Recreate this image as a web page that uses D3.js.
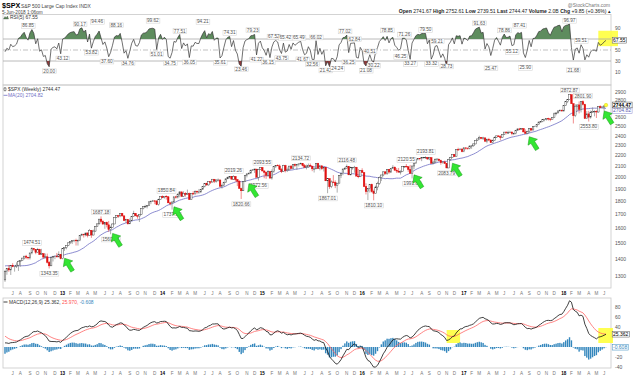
<!DOCTYPE html>
<html>
<head>
<meta charset="utf-8">
<script src="https://cdn.jsdelivr.net/npm/d3@7/dist/d3.min.js"></script>
<style>
html,body{margin:0;padding:0;background:#fff;}
svg{display:block;font-family:"Liberation Sans",Arial,sans-serif;}
</style>
</head>
<body>
<svg id="chart" width="640" height="379"></svg>
<script>
// ---------------- DATA ----------------
const firstWeek = "2011-01-07";      // Friday of first weekly close (warm-up for indicators)
const displayStart = "2012-06-08";   // first week drawn
// weekly closes, 2011-01-07 .. 2018-06-08
const closes = [
1272,1293,1283,1276,1311,1329,1343,1320,1321,1304,1279,1313,1332,1329,1320,1337,1364,1340,1338,1333,1331,1300,1271,1271,1268,1340,1344,1316,1345,1292,1199,1179,1124,1177,1174,1154,1216,1136,1131,1155,1224,1238,1285,1253,1263,1216,1159,1244,1255,1219,1265,1258,
1278,1289,1315,1316,1345,1343,1361,1366,1370,1371,1404,1397,1408,1398,1370,1378,1403,1369,1353,1295,1318,1278,1325,1343,1335,1362,1354,1357,1363,1386,1391,1406,1418,1411,1407,1438,1466,1460,1441,1461,1429,1433,1412,1414,1380,1359,1409,1416,1418,1413,1430,1402,
1466,1472,1486,1503,1513,1518,1520,1516,1518,1551,1561,1556,1569,1553,1588,1555,1582,1614,1633,1667,1650,1631,1643,1626,1593,1606,1632,1680,1692,1691,1710,1691,1656,1664,1633,1655,1688,1710,1692,1690,1703,1745,1760,1762,1771,1798,1804,1806,1805,1775,1818,1842,
1831,1842,1838,1790,1783,1797,1838,1836,1859,1878,1841,1866,1857,1865,1816,1864,1863,1881,1878,1878,1900,1924,1950,1936,1963,1961,1985,1968,1978,1978,1925,1931,1955,1988,2003,2008,1985,2010,1982,1968,1906,1887,1965,2018,2032,2039,2064,2068,2075,2002,2071,2089,
2058,2045,2019,2051,1995,2055,2097,2110,2104,2071,2053,2108,2061,2067,2102,2081,2117,2108,2116,2123,2126,2107,2092,2095,2110,2102,2077,2077,2127,2080,2104,2078,2092,1971,1989,1921,1961,1958,1932,1951,2015,2033,2075,2079,2099,2023,2089,2090,2092,2012,2006,2061,
2044,1922,1880,1907,1940,1880,1865,1918,1948,2000,2022,2050,2035,2073,2048,2081,2092,2065,2057,2047,2052,2099,2099,2096,2071,2037,2103,2130,2162,2175,2174,2183,2184,2184,2169,2180,2128,2139,2165,2168,2153,2133,2141,2126,2085,2164,2182,2213,2192,2260,2258,2264,2239,
2277,2275,2271,2295,2297,2316,2351,2367,2383,2373,2378,2344,2363,2355,2329,2349,2384,2399,2391,2382,2416,2439,2432,2433,2438,2423,2425,2459,2473,2472,2477,2441,2426,2443,2477,2461,2500,2502,2519,2549,2553,2575,2581,2588,2582,2579,2602,2642,2652,2675,2683,2674,
2743,2786,2810,2873,2762,2620,2732,2747,2691,2786,2752,2588,2641,2604,2656,2670,2670,2663,2728,2713,2721,2735,2744.47
];
// weekly highs / lows for the drawn weeks (2012-06-08 .. 2018-06-08)
const highs = [
1335,1345,1364,1363,1375,1357,1380,1392,1395,1407,1419,1426,1413,1438,1474.51,1467,1460,1470,1464,1464,1436,1434,1434,1388,1409,1420,1420,1438,1448,1430,
1467,1472,1486,1503,1514,1518,1524,1530,1525,1552,1564,1563,1570,1573,1597,1589,1592,1618,1635,1667,1687.18,1659,1646,1649,1654,1620,1635,1680,1693,1698,1710,1710,1692,1669,1666,1672,1690,1729,1711,1698,1704,1745,1760,1775,1771,1799,1804,1813,1810,1809,1823,1844,
1849,1843,1850.84,1844,1798,1798,1838,1846,1867,1883,1879,1883,1875,1897,1872,1865,1884,1891,1889,1902,1901,1924,1950,1955,1963,1968,1986,1985,1983,1991,1984,1946,1964,1992,2005,2011,2009,2019.26,2009,1985,1977,1912,1965,2018,2034,2041,2071,2075,2079,2075,2077,2092,
2093.55,2064,2054,2065,2058,2072,2097,2110,2119,2117,2083,2114,2114,2089,2103,2111,2120,2126,2117,2123,2134.72,2126,2121,2115,2126,2126,2098,2088,2129,2132,2114,2112,2095,2094,1989,1993,1975,2021,1975,1951,2021,2033,2080,2094,2116.48,2099,2097,2094,2104,2094,2076,2064,
2082,2044,1950,1908,1940,1947,1896,1930,1963,2009,2022,2053,2056,2075,2075,2084,2111,2099,2084,2085,2064,2099,2103,2120.55,2096,2113,2104,2131,2169,2176,2177,2183,2188,2193.81,2187,2184,2187,2153,2176,2175,2169,2162,2147,2152,2131,2170,2189,2214,2214,2260,2278,2272,2274,
2282,2279,2276,2300,2300,2319,2352,2368,2401,2386,2390,2382,2371,2378,2366,2361,2392,2400,2403,2406,2418,2440,2446,2454,2453,2450,2434,2463,2479,2484,2480,2480,2468,2454,2480,2480,2500,2509,2520,2552,2557,2576,2582,2588,2597,2593,2605,2657,2657,2680,2695,2692,
2743,2787,2810,2873,2873,2763,2755,2747,2789,2787,2801.90,2761,2674,2676,2680,2717,2683,2683,2732,2742,2735,2736,2752.61
];
const lows = [
1267,1307,1324,1306,1351,1325,1346,1329,1354,1391,1397,1399,1397,1397,1429,1451,1430,1439,1425,1425,1403,1405,1373,1343.35,1358,1385,1399,1411,1413,1398,
1398,1451,1461,1484,1495,1495,1507,1485,1485,1514,1547,1538,1546,1539,1552,1536,1553,1577,1613,1627,1636,1630,1598,1608,1577,1560.33,1604,1631,1674,1676,1681,1684,1655,1640,1628,1633,1655,1686,1688,1670,1646,1700,1740,1752,1747,1768,1780,1799,1780,1772,1768,1818,
1827,1823,1815,1790,1770,1737.92,1792,1823,1825,1834,1839,1839,1840,1856,1813,1814,1858,1850,1859,1862,1868,1896,1915,1929,1930,1944,1956,1952,1955,1965,1916,1905,1928,1953,1988,1990,1984,1978,1965,1926,1906,1820.66,1886,1960,2001,2025,2034,2062,2040,2002,1972.56,2069,
2054,1993,1988,2005,1989,1981,2041,2085,2103,2067,2039,2049,2045,2048,2066,2073,2078,2094,2067,2099,2120,2099,2085,2072,2085,2101,2056,2044,2079,2078,2063,2066,2053,1971,1867.01,1903,1909,1953,1909,1872,1951,1995,2020,2066,2080,2022,2019,2070,2042,2012,1993,2005,
2043,1918,1857,1812,1872,1872,1810.10,1865,1891,1937,1969,2011,2023,2022,2033,2039,2077,2059,2039,2045,2026,2052,2085,2090,2050,2032,1991.68,2074,2125,2155,2156,2148,2173,2169,2160,2157,2128,2119,2131,2145,2147,2115,2124,2122,2083.79,2084,2151,2183,2187,2192,2248,2254,2233,
2234,2258,2258,2262,2267,2288,2312,2345,2361,2364,2356,2335,2322,2344,2328,2322,2361,2378,2387,2353,2382,2408,2415,2418,2431,2405,2407,2415,2453,2459,2464,2437,2421,2417,2429,2446,2474,2496,2488,2520,2543,2547,2557,2566,2566,2557,2578,2601,2624,2651,2675,2673,
2673,2737,2768,2808,2759,2532.69,2604,2675,2647,2658,2741,2585,2586,2553.80,2586,2660,2613,2594,2655,2707,2707,2676,2734
];
const monthLetters = ["J","F","M","A","M","J","J","A","S","O","N","D"];
const priceTicks = [1300,1400,1500,1600,1700,1800,1900,2000,2100,2200,2300,2400,2500,2600,2700,2800,2900];
const rsiTicks = [10,30,50,70,90];
const macdTicks = [-40,-20,0,20,40,60,80];

// price pivot annotations
const pivotText = ["1474.51","1343.35","1687.18","1560.33","1850.84","1737.92","2019.26","1820.66","2093.55","1972.56","2134.72","1867.01","2116.48","1810.10","2120.55","1991.68","2193.81","2083.79","2872.87","2801.90","2553.80"];
const pivotDate = ["2012-09-14","2012-11-16","2013-05-24","2013-06-28","2014-01-17","2014-02-07","2014-09-19","2014-10-17","2015-01-02","2014-12-19","2015-05-22","2015-08-28","2015-11-06","2016-02-12","2016-06-10","2016-07-01","2016-08-19","2016-11-04","2018-01-26","2018-03-16","2018-04-06"];
const pivotSide = ["a","b","a","b","a","b","a","b","a","b","a","b","a","b","a","b","a","b","a","a","b"];

// RSI pivot annotations
const rsiTagText = ["86.85","20.00","43.12","90.17","53.82","94.46","37.60","88.16","34.76","99.62","51.01","34.75","77.51","36.05","94.21","35.61","74.31","23.46","79.23","41.22","36.15","67.52","43.75","65.42","65.49","41.67","32.56","66.02","21.42","24.24","77.02","36.25","62.84","21.08","40.51","30.22","78.85","46.25","71.26","33.27","79.50","33.32","59.21","28.73","91.63","25.47","78.86","55.12","87.41","25.90","96.97","21.68","59.51"];
const rsiTagDate = ["2012-08-31","2012-11-16","2013-01-04","2013-03-08","2013-04-19","2013-05-10","2013-06-14","2013-07-19","2013-08-30","2013-11-29","2013-12-13","2014-01-31","2014-03-07","2014-04-11","2014-05-30","2014-08-01","2014-09-05","2014-10-17","2014-11-28","2014-12-12","2015-01-23","2015-02-13","2015-03-13","2015-03-27","2015-05-15","2015-05-29","2015-07-03","2015-07-17","2015-08-21","2015-10-02","2015-10-30","2015-11-13","2015-12-04","2016-01-15","2016-01-29","2016-02-12","2016-04-01","2016-05-20","2016-06-03","2016-06-24","2016-08-19","2016-09-09","2016-09-30","2016-11-04","2017-03-03","2017-04-13","2017-06-02","2017-06-30","2017-07-28","2017-08-18","2018-01-26","2018-02-09","2018-03-09"];
const rsiTagSide = ["a","b","b","a","b","a","b","a","b","a","b","b","a","b","a","b","a","b","a","b","b","a","b","a","a","b","b","a","b","b","a","b","a","b","a","b","a","b","a","b","a","b","a","b","a","b","a","b","a","b","a","b","a"];

// green arrows (weeks where price came back to the MA)
const arrowDate = ["2013-01-04","2013-06-28","2014-02-07","2014-11-07","2016-07-01","2016-11-18","2017-08-25","2018-05-25"];

// legend / header values
const titleSym = "$SPX", titleName = "S&P 500 Large Cap Index", titleExch = "INDX";
const stamp = "5-Jun-2018 1:06pm";
const quote = [["Open","2741.67"],["High","2752.61"],["Low","2739.51"],["Last","2744.47"],["Volume","2.0B"],["Chg","+9.85 (+0.36%)"]];
const lastText = "2744.47", maText = "2704.82";
const rsiText = "67.55";
const macdVals = ["25.362","25.970","-0.608"];

// ---------------- SETUP ----------------
const svg = d3.select("#chart");
const parse = d3.timeParse("%Y-%m-%d");
const d0 = parse(firstWeek);
const N = closes.length;
const dates = closes.map((_, i) => d3.timeDay.offset(d0, 7 * i));
const wk = s => Math.round((parse(s) - d0) / (7 * 864e5));
const S = wk(displayStart);
const opens = closes.map((c, i) => i > 0 ? closes[i - 1] : c);

// indicators computed from the closes
const ma = closes.map((c, i) => i < 19 ? null : d3.mean(closes.slice(i - 19, i + 1)));
const rsi = new Array(N).fill(null);
{
  let ag = 0, al = 0;
  for (let i = 1; i <= 5; i++) { const ch = closes[i] - closes[i - 1]; if (ch > 0) ag += ch; else al -= ch; }
  ag /= 5; al /= 5; rsi[5] = 100 - 100 / (1 + ag / al);
  for (let i = 6; i < N; i++) {
    const ch = closes[i] - closes[i - 1];
    ag = (ag * 4 + Math.max(ch, 0)) / 5; al = (al * 4 + Math.max(-ch, 0)) / 5;
    rsi[i] = al === 0 ? 100 : 100 - 100 / (1 + ag / al);
  }
}
function ema(arr, n) { const k = 2 / (n + 1); let e = arr[0]; return arr.map((v, i) => (e = i === 0 ? v : v * k + e * (1 - k))); }
const e12 = ema(closes, 12), e26 = ema(closes, 26);
const macd = closes.map((_, i) => e12[i] - e26[i]);
const sig = ema(macd, 9);
const hist = macd.map((m, i) => m - sig[i]);

const idx = d3.range(S, N);

// scales
const L = 3, R = 611;
const x = d3.scaleTime().domain([dates[S], dates[N - 1]]).range([5, 606]);
const yP = d3.scaleLog().domain([1300, 2900]).range([276, 92.5]);
const yR = d3.scaleLinear().domain([0, 100]).range([77.5, 22.5]);
const yM = d3.scaleLinear().domain([-40, 80]).range([367, 307]);

const FS = 5;
const gray = "#555";

// ---------------- HEADER ----------------
svg.append("text").attr("x", 2).attr("y", 8).attr("font-size", 7.2).attr("font-weight", "bold").attr("fill", "#000").text(titleSym);
svg.append("text").attr("x", 21).attr("y", 7.5).attr("font-size", 4.9).attr("fill", "#444").text(titleName + "  " + titleExch);
svg.append("text").attr("x", 2).attr("y", 13.5).attr("font-size", 4.7).attr("fill", "#444").text(stamp);
svg.append("text").attr("x", 610).attr("y", 6.5).attr("text-anchor", "end").attr("font-size", 4.9).attr("fill", "#777").text("@StockCharts.com");
{
  const t = svg.append("text").attr("x", 611).attr("y", 13).attr("text-anchor", "end").attr("font-size", 5.1).attr("fill", "#222");
  quote.forEach((q, i) => {
    t.append("tspan").attr("font-weight", "bold").text((i ? " " : "") + q[0] + " ");
    t.append("tspan").text(q[1]);
  });
  t.append("tspan").attr("fill", "#222").text(" \u25B4");
}

// ---------------- PANEL FRAMES ----------------
function frame(y0, y1) {
  svg.append("rect").attr("x", L).attr("y", y0).attr("width", R - L).attr("height", y1 - y0)
    .attr("fill", "none").attr("stroke", "#c9c9c9").attr("stroke-width", 0.8);
}
frame(14.5, 85);
frame(85, 288);
frame(298, 368);

function tag(parent, xx, yy, txt, color, opt = {}) {
  const g = parent.append("g");
  const r = g.append("rect");
  const t = g.append("text").attr("x", xx).attr("y", yy).attr("text-anchor", opt.anchor || "middle")
    .attr("dy", "0.35em").attr("font-size", opt.size || 4.7).attr("fill", color)
    .attr("font-weight", opt.bold ? "bold" : "normal").text(txt);
  const b = t.node().getBBox();
  r.attr("x", b.x - 0.8).attr("y", b.y + 0.2).attr("width", b.width + 1.6).attr("height", b.height - 0.2)
    .attr("fill", opt.bg || "#fff").attr("stroke", opt.border || "#cfcfcf").attr("stroke-width", 0.5);
  return g;
}
// right-axis tick labels, skipping those covered by value tags
function ticks(parent, vals, sc, covered) {
  vals.forEach(v => {
    const yy = sc(v);
    if (covered.some(c => Math.abs(c - yy) < 4)) return;
    parent.append("text").attr("x", 615).attr("y", yy).attr("dy", "0.35em").attr("font-size", FS).attr("fill", gray).text(v);
  });
}

// ---------------- RSI PANEL ----------------
const gR = svg.append("g");
gR.append("rect").attr("x", x(parse("2018-05-11"))).attr("y", yR(85)).attr("width", 618 - x(parse("2018-05-11"))).attr("height", yR(57) - yR(85)).attr("fill", "#ffff33").attr("opacity", 0.85);
[70, 30].forEach(v => gR.append("line").attr("x1", L).attr("x2", R).attr("y1", yR(v)).attr("y2", yR(v)).attr("stroke", "#a8a8a8").attr("stroke-width", 0.8));
gR.append("line").attr("x1", L).attr("x2", R).attr("y1", yR(50)).attr("y2", yR(50)).attr("stroke", "#a8a8a8").attr("stroke-width", 0.7).attr("stroke-dasharray", "5,2,1,2");
const defs = svg.append("defs");
defs.append("clipPath").attr("id", "cUp").append("rect").attr("x", L).attr("y", 0).attr("width", R - L).attr("height", yR(70));
defs.append("clipPath").attr("id", "cDn").append("rect").attr("x", L).attr("y", yR(30)).attr("width", R - L).attr("height", 100 - yR(30));
gR.append("path").datum(idx).attr("clip-path", "url(#cUp)").attr("fill", "#5e8c5e")
  .attr("d", d3.area().x(i => x(dates[i])).y0(yR(70)).y1(i => yR(rsi[i])));
gR.append("path").datum(idx).attr("clip-path", "url(#cDn)").attr("fill", "#8e3b3b")
  .attr("d", d3.area().x(i => x(dates[i])).y0(yR(30)).y1(i => yR(rsi[i])));
gR.append("path").datum(idx).attr("fill", "none").attr("stroke", "#333").attr("stroke-width", 0.7)
  .attr("d", d3.line().x(i => x(dates[i])).y(i => yR(rsi[i])));
ticks(gR, rsiTicks, yR, [yR(+rsiText)]);
tag(gR, 613, yR(+rsiText), rsiText, "#000", { anchor: "start", size: 5, border: "#555" });
rsiTagText.forEach((t, k) => {
  const i = wk(rsiTagDate[k]); const v = +t;
  const yy = rsiTagSide[k] === "a" ? Math.max(yR(v) - 4, 20.5) : Math.min(yR(v) + 4.5, 72.5);
  tag(gR, x(dates[i]), yy, t, "#555");
});
// legend
gR.append("path").attr("d", "M3.5,19 L5,16.5 L6.3,17.8 L7.5,16 L8.5,19 Z").attr("fill", "#5e8c5e").attr("stroke", "#333").attr("stroke-width", 0.3);
gR.append("text").attr("x", 10).attr("y", 19).attr("font-size", 4.9).attr("fill", "#333").text("RSI(5) " + rsiText);

// ---------------- PRICE PANEL ----------------
const gP = svg.append("g");
const lastY = yP(closes[N - 1]), maY = lastY + 5.6;
ticks(gP, priceTicks, yP, [lastY, maY]);
// MA(20)
gP.append("path").datum(idx).attr("fill", "none").attr("stroke", "#6f6fc4").attr("stroke-width", 0.8)
  .attr("d", d3.line().x(i => x(dates[i])).y(i => yP(ma[i])));
// candles
const cg = gP.selectAll("g.cdl").data(idx).join("g").attr("class", "cdl");
cg.each(function (i) {
  const g = d3.select(this);
  const o = opens[i], c = closes[i];
  const h = Math.max(highs[i - S], o, c), l = Math.min(lows[i - S], o, c);
  const up = c >= o;
  const col = up ? "#3a3a3a" : "#e01010";
  const xx = x(dates[i]);
  g.append("line").attr("x1", xx).attr("x2", xx).attr("y1", yP(h)).attr("y2", yP(l)).attr("stroke", up ? "#777" : "#e84040").attr("stroke-width", 0.6);
  const yt = yP(Math.max(o, c)), yb = yP(Math.min(o, c));
  g.append("rect").attr("x", xx - 0.8).attr("y", yt).attr("width", 1.6).attr("height", Math.max(yb - yt, 0.5))
    .attr("fill", up ? "#fff" : "#e01010").attr("stroke", col).attr("stroke-width", 0.45);
});
// pivot tags
pivotText.forEach((t, k) => {
  const i = wk(pivotDate[k]); const v = +t;
  tag(gP, x(dates[i]), pivotSide[k] === "a" ? yP(v) - 4.5 : yP(v) + 5, t, "#555");
});
// arrows
arrowDate.forEach(d => {
  const i = wk(d);
  const tx = x(dates[i]) + 2, ty = yP(ma[i]) + 3;
  gP.append("path").attr("d", "M0,0 L5.5,6.5 L2.1,6.5 L2.1,15 L-2.1,15 L-2.1,6.5 L-5.5,6.5 Z")
    .attr("transform", `translate(${tx},${ty}) rotate(-32)`)
    .attr("fill", "#33e633").attr("stroke", "#1c9e1c").attr("stroke-width", 0.5);
});
// last point marker
gP.append("circle").attr("cx", x(dates[N - 1])).attr("cy", yP(closes[N - 1])).attr("r", 1.8).attr("fill", "#ffff33").attr("stroke", "#cccc00").attr("stroke-width", 0.4);
// right value tags
tag(gP, 613, maY, maText, "#5a5ab0", { anchor: "start", size: 5, border: "#8a8ad0" });
tag(gP, 613, lastY, lastText, "#000", { anchor: "start", size: 5, border: "#444", bold: true });
// legend
gP.append("line").attr("x1", 5).attr("x2", 5).attr("y1", 87).attr("y2", 91.5).attr("stroke", "#333").attr("stroke-width", 0.5);
gP.append("rect").attr("x", 4).attr("y", 88).attr("width", 2).attr("height", 2.6).attr("fill", "#fff").attr("stroke", "#333").attr("stroke-width", 0.5);
gP.append("text").attr("x", 8).attr("y", 91).attr("font-size", 4.9).attr("fill", "#333").text("$SPX (Weekly) " + lastText);
gP.append("line").attr("x1", 3.5).attr("x2", 7.5).attr("y1", 95.3).attr("y2", 95.3).attr("stroke", "#6f6fc4").attr("stroke-width", 0.8);
gP.append("text").attr("x", 8).attr("y", 97).attr("font-size", 4.9).attr("fill", "#6f6fc4").text("MA(20) " + maText);

// ---------------- MACD PANEL ----------------
const gM = svg.append("g");
// yellow highlights
gM.append("rect").attr("x", x(parse("2016-11-04"))).attr("y", yM(34)).attr("width", x(parse("2016-12-23")) - x(parse("2016-11-04"))).attr("height", yM(8) - yM(34)).attr("fill", "#ffff33").attr("opacity", 0.85);
gM.append("rect").attr("x", x(parse("2018-05-11"))).attr("y", yM(38)).attr("width", 613 - x(parse("2018-05-11"))).attr("height", yM(8) - yM(38)).attr("fill", "#ffff33").attr("opacity", 0.85);
gM.selectAll("rect.h").data(idx).join("rect").attr("class", "h")
  .attr("x", i => x(dates[i]) - 0.7).attr("width", 1.4)
  .attr("y", i => Math.min(yM(0), yM(hist[i]))).attr("height", i => Math.abs(yM(hist[i]) - yM(0)))
  .attr("fill", "#3487bd");
gM.append("path").datum(idx).attr("fill", "none").attr("stroke", "#ff6464").attr("stroke-width", 0.8)
  .attr("d", d3.line().x(i => x(dates[i])).y(i => yM(sig[i])));
gM.append("path").datum(idx).attr("fill", "none").attr("stroke", "#111").attr("stroke-width", 0.8)
  .attr("d", d3.line().x(i => x(dates[i])).y(i => yM(macd[i])));
ticks(gM, macdTicks, yM, [yM(+macdVals[0]), yM(+macdVals[2])]);
tag(gM, 613, yM(+macdVals[0]), macdVals[0], "#000", { anchor: "start", size: 5, border: "#555" });
tag(gM, 613, yM(+macdVals[2]), macdVals[2], "#3487bd", { anchor: "start", size: 5, border: "#3487bd" });
// legend
gM.append("line").attr("x1", 3.5).attr("x2", 7.5).attr("y1", 302).attr("y2", 302).attr("stroke", "#111").attr("stroke-width", 0.8);
{
  const t = gM.append("text").attr("x", 9).attr("y", 303.7).attr("font-size", 4.9).attr("fill", "#333");
  t.append("tspan").text("MACD(12,26,9) " + macdVals[0] + ", ");
  t.append("tspan").attr("fill", "#ff5050").text(macdVals[1] + ", ");
  t.append("tspan").attr("fill", "#3487bd").text(macdVals[2]);
}

// ---------------- MONTH AXES ----------------
function monthAxis(yy) {
  const g = svg.append("g");
  idx.forEach(i => {
    const d = dates[i];
    const prev = i > 0 ? dates[i - 1] : null;
    if (prev && prev.getMonth() === d.getMonth()) return;
    const m = d.getMonth();
    const isYear = m === 0;
    g.append("text").attr("x", x(d)).attr("y", yy).attr("text-anchor", "middle")
      .attr("font-size", 4.6).attr("font-weight", isYear ? "bold" : "normal")
      .attr("fill", isYear ? "#000" : "#777")
      .text(isYear ? String(d.getFullYear()).slice(2) : monthLetters[m]);
  });
}
monthAxis(295);
monthAxis(375);
</script>
</body>
</html>
